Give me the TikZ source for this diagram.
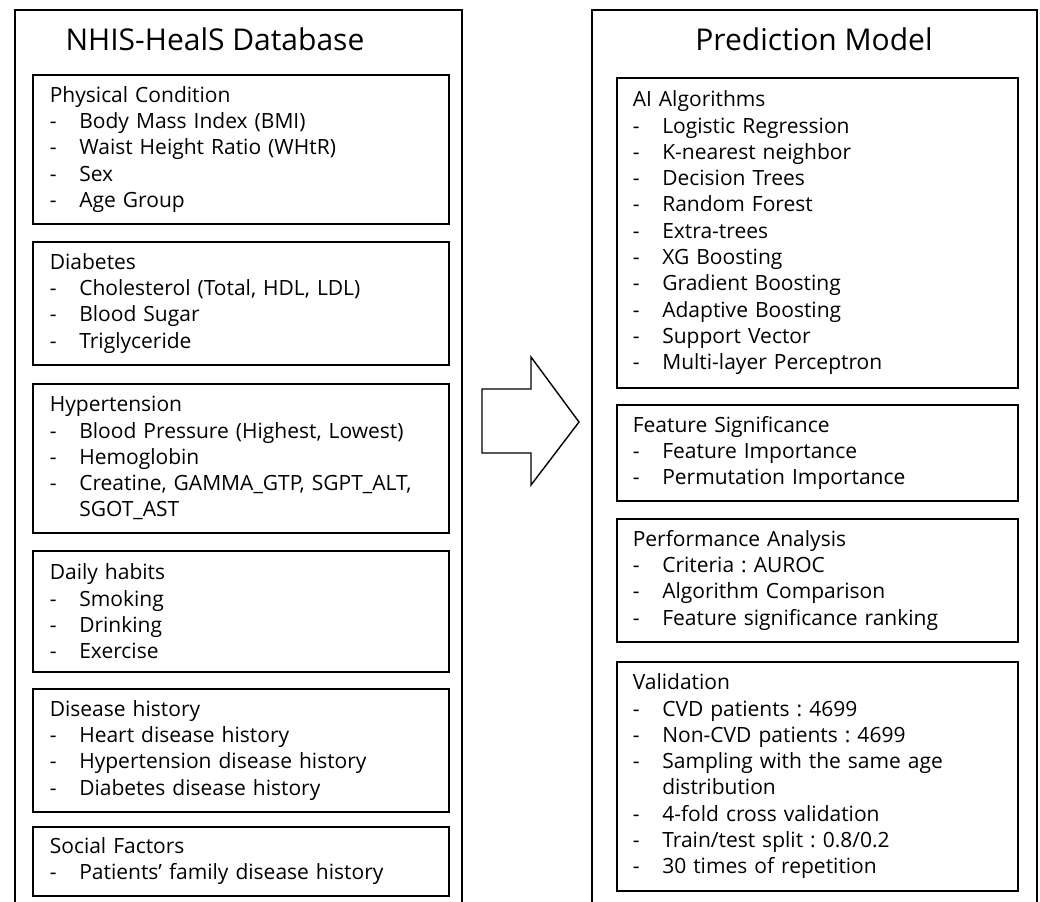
\documentclass[tikz,border=0pt]{standalone}
\usepackage{fontspec}
\setmainfont{Open Sans}
\frenchspacing
\newcommand{\itm}[1]{\\\makebox[29.5pt][l]{-}#1}
\newcommand{\cnt}[1]{\\\hspace*{29.5pt}#1}
\begin{document}
\begin{tikzpicture}[x=1pt, y=-1pt,
  panel/.style={draw, line width=1.8pt},
  heading/.style={anchor=base, font=\fontsize{30}{36}\selectfont},
  group/.style={draw, line width=1.6pt, anchor=north west, inner ysep=0pt,
    align=left, font=\fontsize{21}{26.3}\selectfont},
  lgroup/.style={group, inner xsep=17pt, text width=382pt},
  rgroup/.style={group, inner xsep=16pt, text width=369pt}]
\useasboundingbox (0,0) rectangle (1040,901);
\draw[panel] (15,920) -- (15,10) -- (462,10) -- (462,920);
\draw[panel] (592,920) -- (592,10) -- (1037,10) -- (1037,920);
\node[heading] (dbtitle) at (215,51) {NHIS-HealS Database};
\node[heading] (mdtitle) at (814,51) {Prediction Model};
\node[lgroup, minimum height=149pt] (phys) at (32,74) {Physical Condition
  \itm{Body Mass Index (BMI)}\itm{Waist Height Ratio (WHtR)}\itm{Sex}\itm{Age Group}};
\node[lgroup, minimum height=123pt] (diab) at (32,241) {Diabetes
  \itm{Cholesterol (Total, HDL, LDL)}\itm{Blood Sugar}\itm{Triglyceride}};
\node[lgroup, minimum height=149pt] (hyper) at (32,383) {Hypertension
  \itm{Blood Pressure (Highest, Lowest)}\itm{Hemoglobin}
  \itm{Creatine, GAMMA\_GTP, SGPT\_ALT,}\cnt{SGOT\_AST}};
\node[lgroup, minimum height=121pt] (habit) at (32,550) {Daily habits
  \itm{Smoking}\itm{Drinking}\itm{Exercise}};
\node[lgroup, minimum height=123pt] (hist) at (32,688) {Disease history
  \itm{Heart disease history}\itm{Hypertension disease history}\itm{Diabetes disease history}};
\node[lgroup, minimum height=69pt] (social) at (32,826) {Social Factors
  \itm{Patients’ family disease history}};
\node[rgroup, minimum height=310pt] (algo) at (616,77) {AI Algorithms
  \itm{Logistic Regression}\itm{K-nearest neighbor}\itm{Decision Trees}
  \itm{Random Forest}\itm{Extra-trees}\itm{XG Boosting}\itm{Gradient Boosting}
  \itm{Adaptive Boosting}\itm{Support Vector}\itm{Multi-layer Perceptron}};
\node[rgroup, minimum height=96pt] (feat) at (616,404) {Feature Significance
  \itm{Feature Importance}\itm{Permutation Importance}};
\node[rgroup, minimum height=123pt] (perf) at (616,518) {Performance Analysis
  \itm{Criteria : AUROC}\itm{Algorithm Comparison}\itm{Feature significance ranking}};
\node[rgroup, minimum height=229pt] (valid) at (616,661) {Validation
  \itm{CVD patients : 4699}\itm{Non-CVD patients : 4699}
  \itm{Sampling with the same age}\cnt{distribution}
  \itm{4-fold cross validation}\itm{Train/test split : 0.8/0.2}\itm{30 times of repetition}};
\draw[line width=1.4pt, line join=miter] (482,389) -- (531,389) -- (531,357) -- (579,422)
  -- (531,485) -- (531,453) -- (482,453) -- cycle;
\end{tikzpicture}
\end{document}
